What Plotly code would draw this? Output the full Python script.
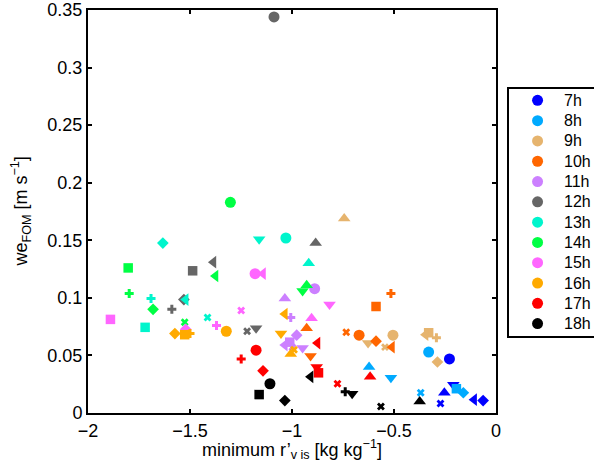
import plotly.graph_objects as go

hours = ["7h", "8h", "9h", "10h", "11h", "12h", "13h", "14h", "15h", "16h", "17h", "18h"]

# marker keys: o circle, ^ up, v down, < left, d diamond, s square, + plus, x cross
h7_k = ["o", "v", "^", "x", "<", "d"]
h7_x = [-0.228, -0.209, -0.253, -0.272, -0.107, -0.063]
h7_y = [0.047, 0.0245, 0.0176, 0.0082, 0.0116, 0.0108]

h8_k = ["o", "^", "v", "x", "s", "d"]
h8_x = [-0.330, -0.622, -0.515, -0.369, -0.194, -0.160]
h8_y = [0.0529, 0.040, 0.0306, 0.0176, 0.0211, 0.0176]

h9_k = ["o", "^", "v", "x", "s", "<", "+", "d"]
h9_x = [-0.505, -0.744, -0.627, -0.544, -0.330, -0.345, -0.292, -0.287]
h9_y = [0.0676, 0.169, 0.0607, 0.0572, 0.0697, 0.068, 0.0654, 0.0443]

h10_k = ["o", "^", "v", "x", "s", "<", "+", "d"]
h10_x = [-0.671, -0.928, -0.909, -0.734, -0.588, -0.510, -0.515, -0.588]
h10_y = [0.0676, 0.0736, 0.0495, 0.0701, 0.0925, 0.0572, 0.1037, 0.0624]

h11_k = ["o", "^", "v", "x", "s", "<", "+", "d"]
h11_x = [-0.889, -1.035, -0.948, -0.998, -1.011, -1.035, -1.006, -0.977]
h11_y = [0.108, 0.0994, 0.0564, 0.057, 0.0615, 0.059, 0.083, 0.0676]

h12_k = ["o", "^", "v", "x", "s", "<", "+", "d"]
h12_x = [-1.088, -0.884, -1.176, -1.220, -1.487, -1.385, -1.589, -1.530]
h12_y = [0.344, 0.1476, 0.0736, 0.071, 0.1235, 0.131, 0.090, 0.0985]

h13_k = ["o", "^", "v", "x", "s", "<", "+", "d"]
h13_x = [-1.030, -0.918, -1.161, -1.414, -1.720, -1.521, -1.691, -1.633]
h13_y = [0.152, 0.130, 0.151, 0.083, 0.0744, 0.0985, 0.0994, 0.1476]

h14_k = ["o", "^", "v", "x", "s", "<", "+", "d"]
h14_x = [-1.302, -0.928, -0.948, -1.526, -1.803, -1.375, -1.798, -1.681]
h14_y = [0.183, 0.111, 0.106, 0.0788, 0.126, 0.119, 0.1037, 0.090]

h15_k = ["o", "^", "v", "x", "s", "<", "+", "d"]
h15_x = [-1.181, -0.904, -0.816, -1.249, -1.890, -1.142, -1.370, -1.521]
h15_y = [0.121, 0.0822, 0.0942, 0.089, 0.0813, 0.121, 0.076, 0.0727]

h16_k = ["o", "^", "v", "x", "s", "<", "+", "d"]
h16_x = [-1.322, -1.006, -1.054, -0.990, -1.526, -1.035, -1.500, -1.574]
h16_y = [0.071, 0.0512, 0.069, 0.055, 0.068, 0.086, 0.069, 0.069]

h17_k = ["o", "^", "v", "x", "s", "<", "+", "d"]
h17_x = [-1.176, -0.617, -0.879, -0.777, -0.870, -0.875, -1.249, -1.142]
h17_y = [0.0546, 0.0314, 0.040, 0.0254, 0.0349, 0.0607, 0.047, 0.0366]

h18_k = ["o", "^", "v", "x", "s", "<", "+", "d"]
h18_x = [-1.108, -0.374, -0.705, -0.564, -1.161, -0.909, -0.739, -1.035]
h18_y = [0.0254, 0.0099, 0.0168, 0.0056, 0.016, 0.0314, 0.0185, 0.0108]

x_ticks = [-2, -1.5, -1, -0.5, 0]
x_tick_labels = ["\u22122", "\u22121.5", "\u22121", "\u22120.5", "0"]
y_ticks = [0, 0.05, 0.1, 0.15, 0.2, 0.25, 0.3, 0.35]
y_tick_labels = ["0", "0.05", "0.1", "0.15", "0.2", "0.25", "0.3", "0.35"]

x_title = "minimum r\u2019<sub>v is</sub> [kg kg<sup>\u22121</sup>]"
y_title = "we<sub>FOM</sub> [m s<sup>\u22121</sup>]"

colors = ["#0000FF", "#00AAFF", "#E6B46E", "#FF6600", "#CC80FF", "#666666",
          "#00F5CC", "#00FF44", "#FF66FF", "#FFAA00", "#FF0000", "#000000"]

sym_map = {"o": "circle", "^": "triangle-up", "v": "triangle-down", "<": "triangle-left",
           "d": "diamond", "s": "square", "+": "cross", "x": "x"}
size_map = {"o": 11, "^": 11, "v": 11, "<": 11, "d": 9, "s": 9.5, "+": 7.5, "x": 7}

data = [(h7_k, h7_x, h7_y), (h8_k, h8_x, h8_y), (h9_k, h9_x, h9_y), (h10_k, h10_x, h10_y),
        (h11_k, h11_x, h11_y), (h12_k, h12_x, h12_y), (h13_k, h13_x, h13_y), (h14_k, h14_x, h14_y),
        (h15_k, h15_x, h15_y), (h16_k, h16_x, h16_y), (h17_k, h17_x, h17_y), (h18_k, h18_x, h18_y)]

font = dict(family="Liberation Sans, Arial, sans-serif", color="black")

fig = go.Figure()
for name, col, (k, xs, ys) in zip(hours, colors, data):
    fig.add_trace(go.Scatter(
        x=xs, y=ys, mode="markers", name=name, showlegend=False,
        marker=dict(color=col, symbol=[sym_map[s] for s in k], opacity=1,
                    size=[size_map[s] for s in k], line=dict(width=0)),
    ))

# legend drawn on its own small axis pair
n = len(hours)
leg_rows = [n - i for i in range(n)]
fig.add_trace(go.Scatter(
    x=[29] * n, y=leg_rows, mode="markers", xaxis="x2", yaxis="y2", showlegend=False,
    marker=dict(color=colors, symbol="circle", size=11, opacity=1, line=dict(width=0)),
    hoverinfo="skip",
))
for h, r in zip(hours, leg_rows):
    fig.add_annotation(x=54, y=r, xref="x2", yref="y2", text=h, showarrow=False,
                       xanchor="left", yanchor="middle", font=dict(size=16, **font))

W, H = 599, 467
ml, mt, mb = 88, 7, 54
pw = W - ml
ph = H - mt - mb
xdom = [0, 412 / pw]

# axis titles
fig.add_annotation(x=sum(xdom) / 2, y=0, xref="paper", yref="paper", text=x_title,
                   showarrow=False, xanchor="center", yanchor="top", yshift=-22,
                   font=dict(size=18, **font))
fig.add_annotation(x=0, y=0.5, xref="paper", yref="paper", text=y_title, textangle=-90,
                   showarrow=False, xanchor="center", yanchor="middle", xshift=-67,
                   font=dict(size=18, **font))

axis_common = dict(showline=True, linecolor="black", linewidth=2, mirror="ticks",
                   ticks="inside", ticklen=4, tickwidth=2, tickcolor="black",
                   showgrid=False, zeroline=False, tickfont=dict(size=18, **font),
                   ticklabeloverflow="allow")

fig.update_layout(
    width=W, height=H,
    margin=dict(l=ml, r=0, t=mt, b=mb, pad=0),
    plot_bgcolor="white", paper_bgcolor="white",
    font=font,
    xaxis=dict(range=[-2, 0], tickvals=x_ticks, ticktext=x_tick_labels, domain=xdom,
               ticklabelstandoff=0, **axis_common),
    yaxis=dict(range=[0, 0.35001], tickvals=y_ticks, ticktext=y_tick_labels,
               ticklabelstandoff=0, **axis_common),
    xaxis2=dict(domain=[(513 - ml) / pw, 1], range=[0, 86], anchor="y2",
                showline=True, mirror=True, linecolor="black", linewidth=1.5,
                showticklabels=False, ticks="", showgrid=False, zeroline=False, fixedrange=True),
    yaxis2=dict(domain=[(413 - 335) / ph, (413 - 87) / ph], range=[0.41, 12.54], anchor="x2",
                showline=True, mirror=False, linecolor="black", linewidth=1.5,
                showticklabels=False, ticks="", showgrid=False, zeroline=False, fixedrange=True),
    showlegend=False,
)

fig.write_html("out.html")
